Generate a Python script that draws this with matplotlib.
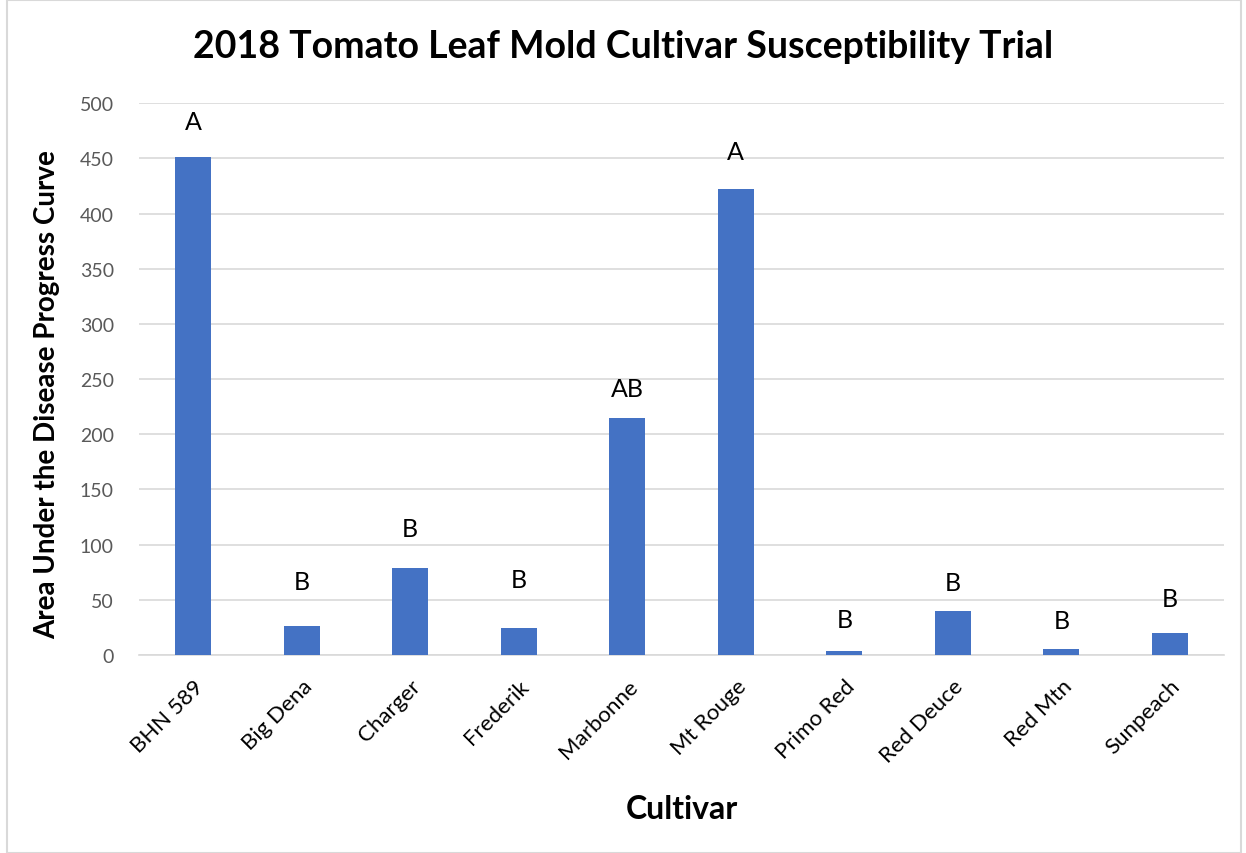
import matplotlib.pyplot as plt
from matplotlib.patches import Rectangle

plt.rcParams['font.family'] = ['Lato', 'DejaVu Sans']

cultivars = ['BHN 589', 'Big Dena', 'Charger', 'Frederik', 'Marbonne',
             'Mt Rouge', 'Primo Red', 'Red Deuce', 'Red Mtn', 'Sunpeach']
audpc = [451, 26, 79, 24, 215, 422, 3.3, 40, 5.7, 19.5]
groups = ['A', 'B', 'B', 'B', 'AB', 'A', 'B', 'B', 'B', 'B']
# how far each letter sits above its bar, in points
label_pad = [26, 32, 28, 35, 21, 27, 23, 20, 20, 25]

fig = plt.figure(figsize=(12.46, 8.54), dpi=100)
ax = fig.add_axes([0.1115, 0.232, 0.871, 0.646])

x = range(len(cultivars))
ax.bar(x, audpc, width=0.33, color='#4472C4', zorder=3)
for i, (v, g) in enumerate(zip(audpc, groups)):
    ax.annotate(g, (i, v), xytext=(0, label_pad[i]), textcoords='offset points',
                ha='center', va='center', fontsize=18, color='black')

ax.set_xlim(-0.5, len(cultivars) - 0.5)
ax.set_ylim(0, 500)
ax.set_yticks(range(0, 501, 50))
ax.grid(axis='y', color='#d9d9d9', linewidth=1.2, zorder=0)
for s in ['top', 'right', 'left']:
    ax.spines[s].set_visible(False)
ax.spines['bottom'].set_color('#d9d9d9')
ax.spines['bottom'].set_linewidth(1.2)
ax.tick_params(axis='both', length=0)
ax.tick_params(axis='y', labelsize=14, labelcolor='#595959', pad=18)
ax.set_xticks(list(x))
ax.set_xticklabels(cultivars, rotation=45, ha='right', rotation_mode='anchor', fontsize=16)
ax.tick_params(axis='x', pad=15)

ax.set_ylabel('Area Under the Disease Progress Curve', fontsize=20, fontweight='bold',
              va='center')
ax.yaxis.set_label_coords(-0.085, 0.473)
ax.set_xlabel('Cultivar', fontsize=23, fontweight='bold', labelpad=20)
fig.suptitle('2018 Tomato Leaf Mold Cultivar Susceptibility Trial', fontsize=27,
             fontweight='bold', y=0.965)

fig.patches.append(Rectangle((0.006, 0.0), 0.99, 0.999, transform=fig.transFigure,
                             fill=False, edgecolor='#d9d9d9', linewidth=1.5))

fig.savefig('out.png', dpi=100)
